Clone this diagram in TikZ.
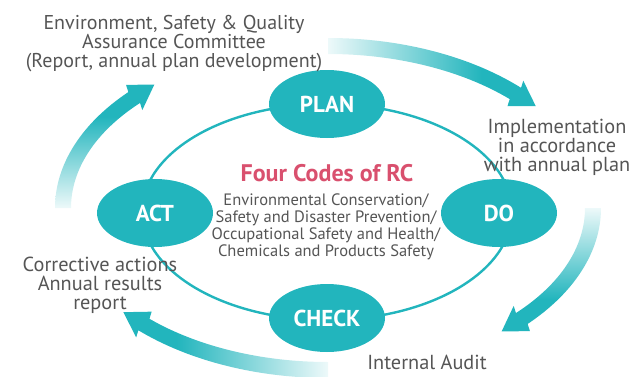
\documentclass[tikz,border=0pt]{standalone}
\usepackage{fontspec}
\setmainfont{PT Sans}
\definecolor{tealc}{HTML}{22B5BD}
\definecolor{rcpink}{HTML}{D9506E}
\definecolor{txtgray}{HTML}{555555}
\usetikzlibrary{calc, shapes.geometric}
\pgfdeclarehorizontalshading{fadeR}{100bp}{color(0bp)=(tealc!8); color(25bp)=(tealc!8); color(62bp)=(tealc); color(100bp)=(tealc)}
\pgfdeclarehorizontalshading{fadeL}{100bp}{color(0bp)=(tealc); color(38bp)=(tealc); color(75bp)=(tealc!8); color(100bp)=(tealc!8)}
\pgfdeclareverticalshading{fadeD}{100bp}{color(0bp)=(tealc); color(38bp)=(tealc); color(75bp)=(tealc!8); color(100bp)=(tealc!8)}
\pgfdeclareverticalshading{fadeU}{100bp}{color(0bp)=(tealc!8); color(25bp)=(tealc!8); color(62bp)=(tealc); color(100bp)=(tealc)}
\tikzset{
  phase/.style={ellipse, fill=tealc, text=white, minimum width=116pt, minimum height=68pt,
    inner sep=0pt, font=\fontsize{23}{23}\selectfont\bfseries},
  note/.style={align=center, text=txtgray, font=\fontsize{20.3}{19}\selectfont, inner sep=0pt}
}

\begin{document}
\begin{tikzpicture}[x=1pt, y=1pt]
  \useasboundingbox (0,0) rectangle (630,376);
  \coordinate (hub) at (327,164);
  \coordinate (ring) at (328,168);
  % cycle ring behind the phases
  \draw[tealc, line width=2.4] (hub) ellipse[x radius=185, y radius=108];
  % faded arrows round the outside
  \foreach \ta/\tb/\sh in {90/45/fadeR, 0/-43/fadeD, -90/-134/fadeL, 180/137/fadeU} {
    \coordinate (hb) at ($(ring)+(\tb:265 and 162)$);
    \coordinate (hn) at ($(ring)+(\tb-1:265 and 162)$);
    \coordinate (tip) at ($(hb)!24pt!(hn)$);
    \shade[shading=\sh]
      ($(ring)+(\ta:273 and 170)$) arc[start angle=\ta, end angle=\tb, x radius=273, y radius=170]
      -- ($(hb)!15pt!90:(hn)$) -- (tip) -- ($(hb)!15pt!-90:(hn)$)
      -- ($(ring)+(\tb:257 and 154)$) arc[start angle=\tb, end angle=\ta, x radius=257, y radius=154]
      -- cycle;
  }
  \node[phase] (plan) at (327,272) {PLAN};
  \node[phase] (do) at (499,163) {DO};
  \node[phase] (check) at (327,58) {CHECK};
  \node[phase] (act) at (155,163) {ACT};
  \node[font=\fontsize{24}{24}\selectfont\bfseries, text=rcpink] (codes) at (327,203) {Four Codes of RC};
  \node[note, font=\fontsize{16.5}{16.8}\selectfont] (codelist) at (326,149)
    {Environmental Conservation/\\Safety and Disaster Prevention/\\Occupational Safety and Health/\\Chemicals and Products Safety};
  \node[note, font=\fontsize{20}{19}\selectfont] (committee) at (174,332) {Environment, Safety \& Quality\\Assurance Committee\\(Report, annual plan development)};
  \node[note] (implement) at (557,229) {Implementation\\in accordance\\with annual plan};
  \node[note] (audit) at (427,14) {Internal Audit};
  \node[note] (corrective) at (100,91) {Corrective actions\\Annual results\\report};
\end{tikzpicture}
\end{document}
